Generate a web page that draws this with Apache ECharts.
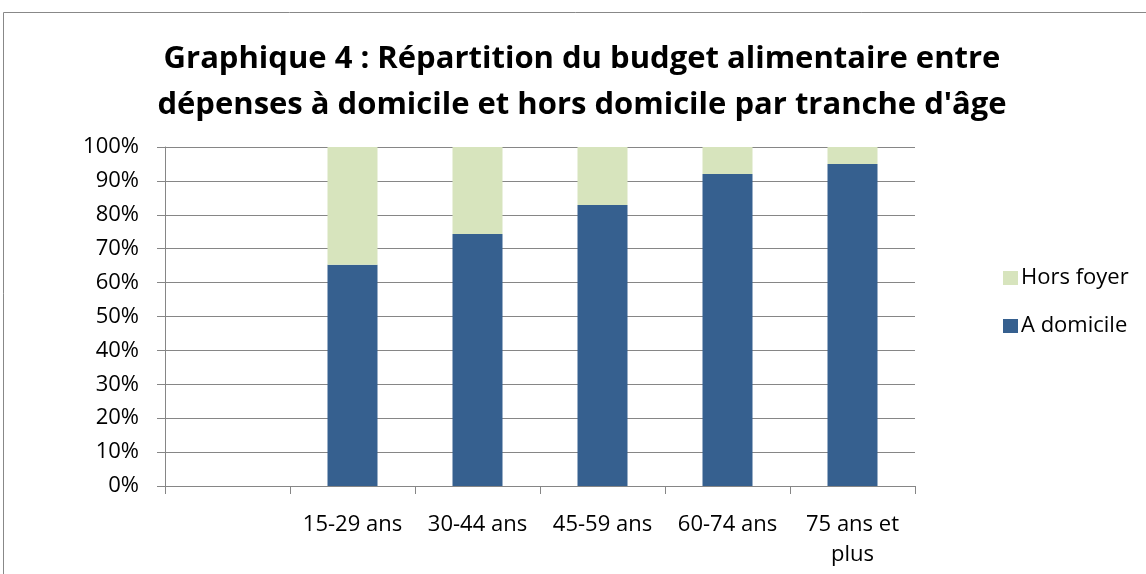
<!DOCTYPE html>
<html><head><meta charset="utf-8">
<script src="https://cdn.jsdelivr.net/npm/echarts@6/dist/echarts.min.js"></script>
<style>html,body{margin:0;padding:0;background:#fff}#c{width:1146px;height:574px}</style>
</head><body><div id="c"></div>
<script>
const categories = ['', '15-29 ans', '30-44 ans', '45-59 ans', '60-74 ans', '75 ans et\nplus'];
const aDomicile = [null, 65.3, 74.3, 82.9, 92.0, 95.0];
const horsFoyer = [null, 34.7, 25.7, 17.1, 8.0, 5.0];
const yTicks = [0, 10, 20, 30, 40, 50, 60, 70, 80, 90, 100];
const FONT = '"Open Sans", sans-serif';
const chart = echarts.init(document.getElementById('c'));
chart.setOption({
  animation: false,
  textStyle: { fontFamily: FONT },
  title: {
    text: 'Graphique 4 : Répartition du budget alimentaire entre\ndépenses à domicile et hors domicile par tranche d\'âge',
    left: 577, top: 31, textAlign: 'center',
    textStyle: { fontFamily: FONT, fontSize: 31, fontWeight: 'bold', color: '#000', lineHeight: 46 }
  },
  graphic: [{ type: 'rect', shape: { x: 3.5, y: 12.5, width: 1160, height: 600 }, style: { fill: 'none', stroke: '#888', lineWidth: 1 } }],
  legend: {
    orient: 'vertical', left: 998, top: 262, itemGap: 26, itemWidth: 15, itemHeight: 14,
    icon: 'rect', data: ['Hors foyer', 'A domicile'],
    textStyle: { fontFamily: FONT, fontSize: 22, color: '#000', padding: [0, 0, 0, -2] }
  },
  grid: { left: 165, right: 231, top: 147, bottom: 88 },
  xAxis: {
    type: 'category', data: categories,
    axisLine: { lineStyle: { color: '#868686' } },
    axisTick: { show: true, length: 8, lineStyle: { color: '#868686' } },
    axisLabel: { fontFamily: FONT, fontSize: 22, color: '#000', margin: 24, lineHeight: 30, interval: 0 }
  },
  yAxis: {
    type: 'value', min: 0, max: 100, interval: 10,
    axisLine: { show: true, lineStyle: { color: '#868686' } },
    axisTick: { show: true, length: 8, lineStyle: { color: '#868686' } },
    splitLine: { lineStyle: { color: '#868686' } },
    axisLabel: { fontFamily: FONT, fontSize: 22, color: '#000', margin: 26,
      formatter: v => yTicks.includes(v) ? v + '%' : '' }
  },
  series: [
    { name: 'A domicile', type: 'bar', stack: 't', data: aDomicile, barWidth: 50,
      itemStyle: { color: '#36608F' } },
    { name: 'Hors foyer', type: 'bar', stack: 't', data: horsFoyer, barWidth: 50,
      itemStyle: { color: '#D7E4BD' } }
  ]
});
</script></body></html>
